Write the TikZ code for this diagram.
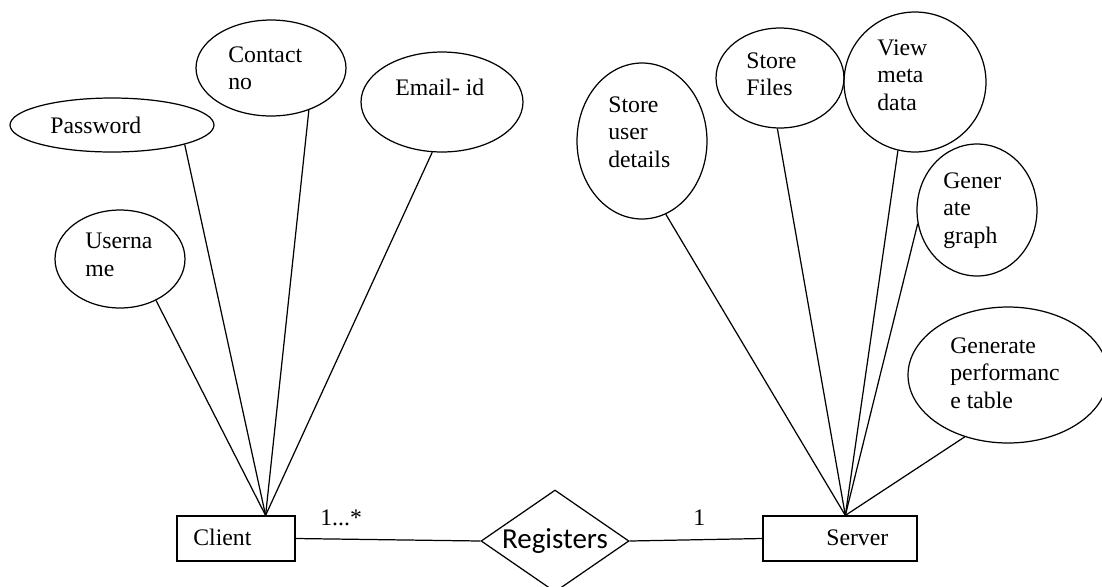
\documentclass[tikz,border=0pt]{standalone}
\usepackage{fontspec}
\setmainfont{Liberation Serif}
\newfontfamily\relfont{Carlito}
\usetikzlibrary{shapes.geometric}

\tikzset{
  attr/.style={draw, ellipse, line width=0.7pt, inner sep=0pt},
  entity/.style={draw, rectangle, line width=0.7pt, inner sep=0pt,
                 minimum height=0.9cm},
  relation/.style={draw, diamond, line width=0.7pt, inner sep=0pt, aspect=1.45,
                   font=\relfont\fontsize{16.5}{18}\selectfont},
  txt/.style={inner sep=0pt, align=left, font=\fontsize{13.5}{15.7}\selectfont},
  link/.style={line width=0.7pt}
}

\begin{document}
\begin{tikzpicture}[x=0.02cm, y=-0.02cm]
  \useasboundingbox (0,0) rectangle (1102,586);

  % Entities and relationship
  \node[entity, minimum width=2.36cm] (client) at (236,538.5) {};
  \node[entity, minimum width=3.08cm] (server) at (840,538.5) {};
  \node[relation, minimum width=2.96cm, minimum height=2.04cm] (reg) at (555,541) {Registers};
  \node[txt, anchor=base west] (client-t) at (193,545) {Client};
  \node[txt, anchor=base west] (server-t) at (826,545) {Server};

  % Client attributes
  \node[attr, minimum width=2.6cm, minimum height=1.96cm] (user) at (120,259) {};
  \node[attr, minimum width=4.08cm, minimum height=1.08cm] (pass) at (112,125) {};
  \node[attr, minimum width=3.0cm, minimum height=1.92cm] (contact) at (271,68) {};
  \node[attr, minimum width=3.24cm, minimum height=2.0cm] (email) at (442,102) {};
  \node[txt, anchor=north west] (user-t) at (85,233) {Userna\\me};
  \node[txt, anchor=base west] (pass-t) at (50,133) {Password};
  \node[txt, anchor=north west] (contact-t) at (228,46) {Contact\\no};
  \node[txt, anchor=base west] (email-t) at (395,95) {Email- id};

  % Server attributes
  \node[attr, minimum width=2.6cm, minimum height=3.12cm] (details) at (642,141) {};
  \node[attr, minimum width=2.56cm, minimum height=2.0cm] (files) at (780,78) {};
  \node[attr, minimum width=2.84cm, minimum height=2.8cm] (meta) at (915,82) {};
  \node[attr, minimum width=2.4cm, minimum height=2.64cm] (graph) at (977,210) {};
  \node[attr, minimum width=4.0cm, minimum height=2.72cm] (perf) at (1008,375) {};
  \node[txt, anchor=north west] (details-t) at (608,96) {Store\\user\\details};
  \node[txt, anchor=north west] (files-t) at (746,52) {Store\\Files};
  \node[txt, anchor=north west] (meta-t) at (877,39) {View\\meta\\data};
  \node[txt, anchor=north west] (graph-t) at (943,172) {Gener\\ate\\graph};
  \node[txt, anchor=north west] (perf-t) at (950,337) {Generate\\performanc\\e table};

  % Attribute links
  \foreach \a/\ang in {user/-49.5, pass/-15.3, contact/-48, email/-101.5}
    \draw[link] (\a.\ang) -- (client.38.8);
  \foreach \a/\ang in {details/-72.5, files/-93.4, meta/-104.8, graph/-167.8, perf/-125.6}
    \draw[link] (\a.\ang) -- (server.77.5);

  % Relationship links with multiplicities
  \draw[link] (client.east) -- (reg.west);
  \draw[link] (reg.east) -- (server.west);
  \node[txt, anchor=base west] (many) at (320,525) {1...*};
  \node[txt, anchor=base west] (one) at (693,525) {1};
\end{tikzpicture}
\end{document}
